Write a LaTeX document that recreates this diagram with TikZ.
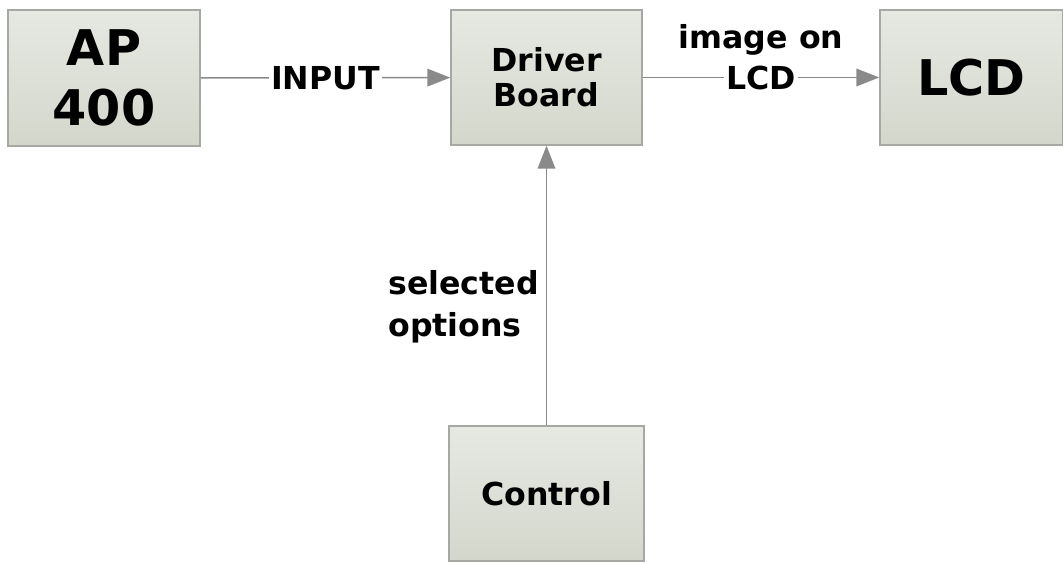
\documentclass[tikz,border=0pt]{standalone}
\usepackage{fontspec}
\setmainfont{DejaVu Sans}
\usetikzlibrary{graphs}
\usetikzlibrary{arrows.meta}
\definecolor{boxtop}{HTML}{E6E9E2}
\definecolor{boxbot}{HTML}{D3D7CB}
\definecolor{boxline}{HTML}{A6A8A4}
\definecolor{arrgray}{HTML}{8A8A8A}
\tikzset{
  block/.style= {draw=boxline, line width=0.9pt, top color=boxtop, bottom color=boxbot,
                 font=\bfseries\fontsize{18}{20}\selectfont, align=center, inner sep=0pt},
  bigblock/.style= {block, font=\bfseries\fontsize{28}{34}\selectfont},
  lbl/.style= {font=\bfseries\fontsize{18}{24}\selectfont, inner sep=1pt},
  arr/.style= {draw=arrgray, line width=0.9pt, -{Triangle[length=13pt, width=10pt]}, arrgray},
}

\begin{document}
\begin{tikzpicture}[x=0.02cm, y=-0.02cm]
  \useasboundingbox (0,0) rectangle (1063,563);
  \node [bigblock, minimum width=3.84cm, minimum height=2.72cm] (ap) at (104,78) {AP\\400} ;
  \node [block, minimum width=3.82cm, minimum height=2.7cm] (drv) at (546.5,77.5) {Driver\\Board} ;
  \node [bigblock, minimum width=3.66cm, minimum height=2.7cm] (lcd) at (971.5,77.5) {LCD} ;
  \node [block, minimum width=3.9cm, minimum height=2.7cm] (ctl) at (546.5,493.5) {Control} ;

  \graph [edges=arr] {
    (ap) ->[edge node={node[lbl, fill=white, text=black] (inlbl) {INPUT}}] (drv) ;
    (drv) ->[edge node={node[lbl, fill=white, text=black, pos=0.5] (lcdlbl) {LCD}}] (lcd) ;
    (ctl) -> (drv) ;
  } ;
  \node [lbl, anchor=south] (imglbl) at ([yshift=3pt]lcdlbl.north) {image on} ;
  \node [lbl, align=left, anchor=east] (sellbl) at (541,307) {selected\\options} ;
\end{tikzpicture}
\end{document}
